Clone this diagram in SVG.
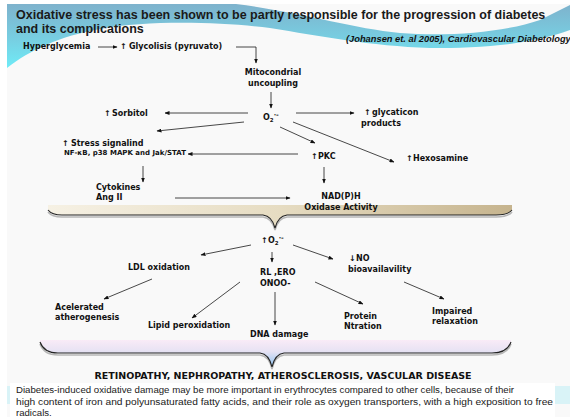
<svg xmlns="http://www.w3.org/2000/svg" width="570" height="417" viewBox="0 0 570 417">
<defs>
<style>
.t{font-family:"DejaVu Sans",sans-serif;font-weight:bold;font-size:8px;fill:#111}
.s{font-size:7px}
.ttl{font-family:"Liberation Sans",Arial,sans-serif;font-weight:bold;font-size:12.5px;fill:#1a1a1a}
.cit{font-family:"Liberation Sans",Arial,sans-serif;font-weight:bold;font-style:italic;font-size:9.3px;fill:#111}
.body{font-family:"Liberation Sans",Arial,sans-serif;font-size:9.6px;fill:#1a1a1a}
.cn path{fill:none;stroke:#1a1a1a;stroke-width:0.8;marker-end:url(#ah)}
.br{fill:none;stroke:#222;stroke-width:1.1}
.sh{fill:none;stroke:#9a9a9a;stroke-width:1.6;opacity:0.7}
</style>
<marker id="ah" markerWidth="5" markerHeight="4" refX="4.5" refY="2" orient="auto" markerUnits="userSpaceOnUse"><path d="M0,0 L5,2 L0,4 Z" fill="#111"/></marker>
<linearGradient id="blue" gradientUnits="userSpaceOnUse" x1="0" y1="5" x2="0" y2="68"><stop offset="0" stop-color="#7eb3cd"/><stop offset="0.55" stop-color="#77cfe2"/><stop offset="1" stop-color="#6febf7"/></linearGradient>
<linearGradient id="beige" x1="0" y1="0" x2="1" y2="0"><stop offset="0" stop-color="#f6f1e4"/><stop offset="0.5" stop-color="#e6dcc2"/><stop offset="1" stop-color="#c6b48e"/></linearGradient>
<linearGradient id="pink" gradientUnits="userSpaceOnUse" x1="0" y1="340" x2="0" y2="366"><stop offset="0" stop-color="#f9ebf7"/><stop offset="0.45" stop-color="#e6e2f3"/><stop offset="1" stop-color="#93c5f1"/></linearGradient>
</defs>
<rect width="570" height="417" fill="#ffffff"/>
<rect x="7" y="4" width="563" height="413" fill="#f9f9f9"/>
<path d="M7,4 L236,4 C300,12 350,28 400,33 C450,37 505,32 540,20 L570,5 L570,30 C530,45 480,48 430,48 C370,46 320,36 270,28 C220,22 150,20 100,29 C60,36 30,50 7,68 Z" fill="url(#blue)"/>
<text class="ttl" x="16" y="19">Oxidative stress has been shown to be partly responsible for the progression of diabetes</text>
<text class="ttl" x="16" y="33">and its complications</text>
<text class="cit" x="346" y="42">(Johansen et. al 2005), Cardiovascular  Diabetology</text>

<g id="brace1">
<path d="M48,205 L512,205 L512,210 Q508,215 496,215 L287,215 Q278,216 275,228 Q272,216 263,215 L62,215 Q52,215 48,210 Z" fill="url(#beige)"/>
<path class="sh" d="M48,212 Q52,217 62,217 L263,217 Q272,218 275,230 Q278,218 287,217 L496,217 Q508,217 512,212"/>
<path class="br" d="M48,210 Q52,215 62,215 L263,215 Q272,216 275,228 Q278,216 287,215 L496,215 Q508,215 512,210"/>
</g>
<g id="brace2">
<path d="M40,340 L511,340 L511,342 Q507,353 492,353 L284,353 Q275,354 272,367 Q269,354 260,353 L58,353 Q44,353 40,342 Z" fill="url(#pink)"/>
<path class="sh" d="M40,344 Q44,355 58,355 L260,355 Q269,356 272,369 Q275,356 284,355 L492,355 Q507,355 511,344"/>
<path class="br" d="M40,342 Q44,353 58,353 L260,353 Q269,354 272,367 Q275,354 284,353 L492,353 Q507,353 511,342"/>
</g>

<g class="cn" id="connectors">
<path d="M98,47 L117,47"/>
<path d="M236,47 L256,47 L256,63"/>
<path d="M271,92 L271,108"/>
<path d="M248,113 L165,113"/>
<path d="M244,122 L157,131"/>
<path d="M298,154 L188,154"/>
<path d="M280,127 L315,143"/>
<path d="M296,113 L354,113"/>
<path d="M293,122 L394,162"/>
<path d="M143,166 L143,182"/>
<path d="M324,167 L324,183"/>
<path d="M175,198 L290,198"/>
<path d="M251,245 L201,255"/>
<path d="M272,252 L272,262"/>
<path d="M293,245 L333,259"/>
<path d="M152,279 L104,299"/>
<path d="M240,282 L192,318"/>
<path d="M275,292 L275,325"/>
<path d="M315,282 L363,304"/>
<path d="M404,282 L444,299"/>
</g>

<g id="hyperglycemia"><text class="t" x="23" y="49">Hyperglycemia</text></g>
<g id="glycolisis"><text class="t" x="120" y="49">↑</text><text class="t" x="129" y="49">Glycolisis (pyruvato)</text></g>
<g id="mito"><text class="t" x="273" y="75" text-anchor="middle">Mitocondrial</text><text class="t" x="273" y="86" text-anchor="middle">uncoupling</text></g>
<g id="o2a"><text class="t" x="263" y="120">O<tspan font-size="5.5" dy="2">2</tspan><tspan font-size="6.5" dy="-5">·-</tspan></text></g>
<g id="sorbitol"><text class="t" x="104" y="116">↑</text><text class="t" x="112" y="116">Sorbitol</text></g>
<g id="glycaticon"><text class="t" x="364" y="115">↑</text><text class="t" x="372" y="115">glycaticon</text><text class="t" x="361" y="126">products</text></g>
<g id="stress"><text class="t" x="62" y="146">↑</text><text class="t" x="71" y="146">Stress signalind</text><text class="t s" x="64" y="155">NF-κB, p38 MAPK and Jak/STAT</text></g>
<g id="pkc"><text class="t" x="311" y="159">↑</text><text class="t" x="318" y="159">PKC</text></g>
<g id="hexosamine"><text class="t" x="406" y="161">↑</text><text class="t" x="413" y="161">Hexosamine</text></g>
<g id="cytokines"><text class="t" x="96" y="190">Cytokines</text><text class="t" x="96" y="200">Ang II</text></g>
<g id="nadph"><text class="t" x="341" y="199" text-anchor="middle">NAD(P)H</text><text class="t" x="341" y="210" text-anchor="middle">Oxidase Activity</text></g>
<g id="o2b"><text class="t" x="261" y="243">↑</text><text class="t" x="268" y="243">O<tspan font-size="5.5" dy="2">2</tspan><tspan font-size="6.5" dy="-5">·-</tspan></text></g>
<g id="ldl"><text class="t" x="128" y="270">LDL oxidation</text></g>
<g id="rl"><text class="t" x="260" y="275">RL ,ERO</text><text class="t" x="260" y="286">ONOO-</text></g>
<g id="no"><text class="t" x="349" y="261">↓</text><text class="t" x="356" y="261">NO</text><text class="t" x="348" y="272">bioavailavility</text></g>
<g id="acelerated"><text class="t" x="55" y="310">Acelerated</text><text class="t" x="55" y="320">atherogenesis</text></g>
<g id="lipid"><text class="t" x="148" y="328">Lipid peroxidation</text></g>
<g id="dna"><text class="t" x="250" y="337">DNA  damage</text></g>
<g id="protein"><text class="t" x="344" y="319">Protein</text><text class="t" x="344" y="329">Ntration</text></g>
<g id="impaired"><text class="t" x="432" y="314">Impaired</text><text class="t" x="432" y="324">relaxation</text></g>
<g id="outcome"><text class="t" x="283" y="379" text-anchor="middle" style="font-size:9.5px">RETINOPATHY, NEPHROPATHY, ATHEROSCLEROSIS, VASCULAR DISEASE</text></g>

<rect x="7" y="386" width="563" height="18" fill="#d9f3f7"/>
<rect x="10" y="383" width="545" height="34" fill="#ffffff"/>
<text class="body" x="16" y="393" textLength="498" lengthAdjust="spacingAndGlyphs">Diabetes-induced oxidative damage may be more important in erythrocytes compared to other cells, because of their</text>
<text class="body" x="16" y="404.5" textLength="537" lengthAdjust="spacingAndGlyphs">high content of iron and polyunsaturated fatty acids, and their role as oxygen transporters, with a high exposition to free</text>
<text class="body" x="16" y="416">radicals.</text>
</svg>
